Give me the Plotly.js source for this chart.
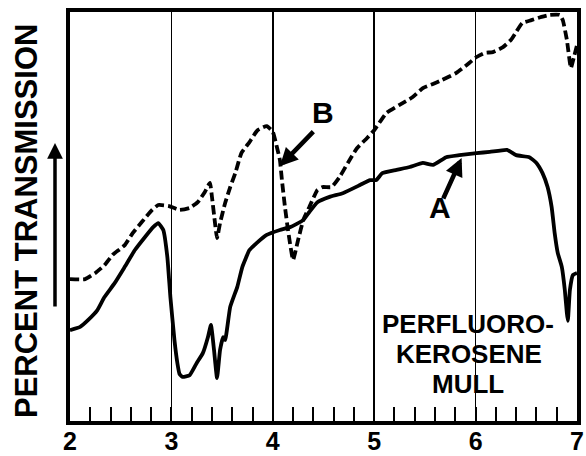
<!DOCTYPE html>
<html>
<head>
<meta charset="utf-8">
<script src="https://cdn.plot.ly/plotly-3.0.1.min.js"></script>
<style>
html,body{margin:0;padding:0;background:#fff;}
#chart{width:586px;height:456px;}
</style>
</head>
<body>
<div id="chart"></div>
<script>
// Wavelength (microns) and relative transmission
var curveA_x = [2.00,2.10,2.18,2.27,2.34,2.44,2.54,2.64,2.74,2.82,2.87,2.92,2.96,2.99,3.03,3.06,3.08,3.11,3.18,3.25,3.31,3.36,3.39,3.42,3.45,3.48,3.51,3.53,3.58,3.65,3.70,3.77,3.84,3.94,4.07,4.17,4.30,4.36,4.44,4.56,4.69,4.86,4.96,5.02,5.08,5.22,5.35,5.48,5.58,5.71,5.84,6.01,6.14,6.31,6.40,6.53,6.60,6.66,6.71,6.75,6.78,6.81,6.85,6.88,6.90,6.91,6.93,6.96,7.00];
var curveA_y = [22.2,23.0,24.7,27.1,30.3,33.7,37.7,41.8,45.0,47.4,48.4,46.7,40.1,30.3,19.8,14.0,11.5,10.8,11.2,14.2,16.6,20.5,23.5,17.4,10.5,17.4,20.5,19.8,27.9,32.8,37.7,41.8,43.5,45.5,46.7,47.4,49.1,51.1,53.5,54.8,55.7,57.7,58.9,58.9,60.6,61.4,62.1,63.1,62.6,64.5,65.0,65.5,65.8,66.3,65.0,64.5,63.1,60.6,57.2,52.3,45.9,41.1,37.7,32.0,26.4,24.5,32.0,35.7,36.2];

var curveB_x = [2.00,2.15,2.25,2.34,2.42,2.54,2.62,2.71,2.81,2.87,2.97,3.08,3.18,3.26,3.33,3.38,3.40,3.43,3.45,3.48,3.53,3.58,3.63,3.69,3.77,3.85,3.94,4.00,4.04,4.07,4.09,4.12,4.15,4.20,4.25,4.30,4.36,4.44,4.49,4.58,4.66,4.74,4.83,4.93,5.00,5.12,5.25,5.38,5.48,5.58,5.67,5.81,5.91,6.01,6.09,6.17,6.27,6.35,6.40,6.46,6.55,6.65,6.73,6.83,6.86,6.90,6.94,6.97,7.00];
var curveB_y = [34.7,34.7,36.2,38.1,40.6,43.0,46.0,48.7,51.6,52.8,52.6,51.6,52.1,53.5,56.0,58.2,54.8,48.4,44.7,48.4,53.3,57.2,60.6,65.5,68.2,71.1,72.1,70.7,67.0,63.8,58.9,52.3,46.7,39.4,44.3,49.1,52.3,56.5,57.2,57.2,59.7,63.1,66.7,69.2,71.1,75.3,77.3,79.2,81.4,82.4,83.4,85.1,87.0,89.0,90.0,90.2,91.4,93.2,95.1,97.3,98.0,98.8,99.3,99.3,98.0,93.2,86.3,89.0,91.9];

var tickVals = [2,3,4,5,6,7];
var tickText = ['2','3','4','5','6','7'];
var noteLines = ['PERFLUORO-', 'KEROSENE', 'MULL'];

var FONT = 'Liberation Sans, Arial, sans-serif';

var traces = [
  {x: curveA_x, y: curveA_y, mode: 'lines', type: 'scatter', name: 'A',
   line: {color: '#000', width: 3.8, shape: 'spline', smoothing: 0.4}, cliponaxis: false, hoverinfo: 'skip'},
  {x: curveB_x, y: curveB_y, mode: 'lines', type: 'scatter', name: 'B',
   line: {color: '#000', width: 3.8, dash: '9px,4px', shape: 'spline', smoothing: 0.4}, cliponaxis: false, hoverinfo: 'skip'}
];

var noteFont = {family: FONT, size: 26, color: '#000', weight: 'bold'};

var layout = {
  width: 586, height: 456,
  margin: {l: 70, r: 9, t: 12, b: 35},
  paper_bgcolor: '#fff', plot_bgcolor: '#fff',
  showlegend: false,
  xaxis: {
    range: [2, 7], tickvals: tickVals, ticktext: tickText,
    ticks: 'inside', ticklen: 14, tickwidth: 2, tickcolor: '#000',
    minor: {dtick: 0.2, tick0: 2, ticks: 'inside', ticklen: 14, tickwidth: 2, tickcolor: '#000', showgrid: false},
    showgrid: true, gridcolor: '#000', gridwidth: 1.5,
    showline: true, linecolor: '#000', linewidth: 4, mirror: true,
    zeroline: false, ticklabelstandoff: -5,
    tickfont: {family: FONT, size: 25, color: '#000', weight: 'bold'}
  },
  yaxis: {
    range: [0, 100], showticklabels: false, ticks: '', showgrid: false, zeroline: false,
    showline: true, linecolor: '#000', linewidth: 4, mirror: true
  },
  annotations: [
    {xref: 'paper', yref: 'paper', x: -0.0848, y: 0.489, xanchor: 'center', yanchor: 'middle',
     text: 'PERCENT TRANSMISSION', showarrow: false, borderpad: 0,
     textangle: -90, font: {family: FONT, size: 31, color: '#000', weight: 'bold'}},
    {xref: 'paper', yref: 'paper', x: -0.0296, y: 0.68, text: '', showarrow: true, ax: 0, ay: 165,
     arrowhead: 2, arrowsize: 0.9, arrowwidth: 3.5, arrowcolor: '#000'},
    {xref: 'x', yref: 'y', x: 4.493, y: 75.5, xanchor: 'center', yanchor: 'middle', text: 'B', showarrow: false,
     font: {family: FONT, size: 30, color: '#000', weight: 'bold'}},
    {xref: 'x', yref: 'y', x: 4.069, y: 62.3, text: '', showarrow: true, ax: 35, ay: -36,
     arrowhead: 2, arrowsize: 0.8, arrowwidth: 4.5, arrowcolor: '#000'},
    {xref: 'x', yref: 'y', x: 5.645, y: 52.1, xanchor: 'center', yanchor: 'middle', text: 'A', showarrow: false,
     font: {family: FONT, size: 30, color: '#000', weight: 'bold'}},
    {xref: 'x', yref: 'y', x: 5.862, y: 64.3, text: '', showarrow: true, ax: -19, ay: 42,
     arrowhead: 2, arrowsize: 0.8, arrowwidth: 4.5, arrowcolor: '#000'},
    {xref: 'x', yref: 'y', x: 5.921, y: 23.7, xanchor: 'center', yanchor: 'middle', text: noteLines[0], showarrow: false,
     borderpad: 0, font: noteFont},
    {xref: 'x', yref: 'y', x: 5.931, y: 16.4, xanchor: 'center', yanchor: 'middle', text: noteLines[1], showarrow: false,
     borderpad: 0, font: noteFont},
    {xref: 'x', yref: 'y', x: 5.921, y: 9.1, xanchor: 'center', yanchor: 'middle', text: noteLines[2], showarrow: false,
     borderpad: 0, font: noteFont}
  ]
};

Plotly.newPlot('chart', traces, layout, {staticPlot: true, displayModeBar: false});
</script>
</body>
</html>
